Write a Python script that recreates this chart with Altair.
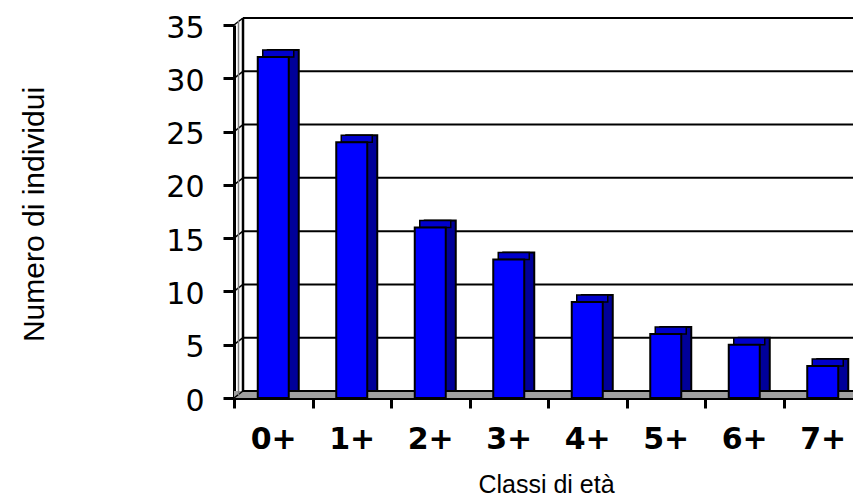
import altair as alt
import pandas as pd

categories = ["0+", "1+", "2+", "3+", "4+", "5+", "6+", "7+"]
counts = [32, 24, 16, 13, 9, 6, 5, 3]
y_ticks = [0, 5, 10, 15, 20, 25, 30, 35]

bars = pd.DataFrame({"classe": categories, "n": counts})
grid = pd.DataFrame({"v": y_ticks})
wall = pd.DataFrame({"top": [35], "bottom": [0]})

W, H = 619, 373
RANGE = [0, 628]
DX, DY = 10, -7
BAR = 31

xscale = alt.Scale(domain=categories, range=RANGE, paddingInner=0, paddingOuter=0)
yscale = alt.Scale(domain=[0, 35], nice=False)

x_axis = alt.Axis(
    title="Classi di età", labelFont="DejaVu Sans", labelFontSize=30, labelFontWeight="bold",
    labelColor="black", labelAngle=0, labelPadding=16, tickBand="extent", tickSize=10,
    tickWidth=3, tickColor="black", domainColor="black", domainWidth=3,
    titleFont="Liberation Sans", titleFontSize=25, titleFontWeight="normal",
    titleColor="black", titleX=312, titleY=94, titleBaseline="alphabetic", titleAlign="center",
)
y_axis = alt.Axis(
    values=y_ticks, title="Numero di individui", labelFont="DejaVu Sans", labelFontSize=30,
    labelColor="black", labelPadding=19, labelOffset=3, tickSize=11, tickWidth=3, tickColor="black",
    domainColor="black", domainWidth=3, grid=False,
    titleFont="Liberation Sans", titleFontSize=30, titleFontWeight="normal", titleColor="black",
    titleX=-191, titleY=189, titleAngle=270, titleBaseline="alphabetic", titleAlign="center",
)

floor = alt.Chart(grid).transform_filter("datum.v == 0").mark_rect(
    color="#a0a0a0", y2Offset=DY
).encode(
    x=alt.value(0), x2=alt.value(RANGE[1]),
    y=alt.Y("v:Q", scale=yscale, axis=y_axis), y2="v:Q",
)

gridlines = alt.Chart(grid).mark_rule(color="black", strokeWidth=2, yOffset=DY).encode(
    x=alt.value(DX - 1), x2=alt.value(RANGE[1]),
    y=alt.Y("v:Q", scale=yscale, axis=y_axis),
)

diag = alt.Chart(grid).mark_rule(color="black", strokeWidth=1.5, y2Offset=DY).encode(
    x=alt.value(0), x2=alt.value(DX - 1),
    y=alt.Y("v:Q", scale=yscale, axis=y_axis), y2="v:Q",
)

wall_edge = alt.Chart(wall).mark_rule(color="black", strokeWidth=2.5, yOffset=DY, y2Offset=DY).encode(
    x=alt.value(DX - 1), y=alt.Y("top:Q", scale=yscale, axis=y_axis), y2="bottom:Q",
)
wall_gray = alt.Chart(wall).mark_rule(color="#808080", strokeWidth=1.5, yOffset=-4, y2Offset=-3).encode(
    x=alt.value(4.5), y=alt.Y("top:Q", scale=yscale, axis=y_axis), y2="bottom:Q",
)

side = alt.Chart(bars).mark_bar(
    size=BAR, xOffset=DX, yOffset=DY, y2Offset=DY, color="#000099", stroke="black", strokeWidth=2
).encode(
    x=alt.X("classe:N", scale=xscale, axis=x_axis),
    y=alt.Y("n:Q", scale=yscale, axis=y_axis),
)

top = alt.Chart(bars).mark_bar(
    size=BAR, xOffset=DX / 2, yOffset=DY, color="#0000CC", stroke="black", strokeWidth=1.5
).encode(
    x=alt.X("classe:N", scale=xscale, axis=x_axis),
    y=alt.Y("n:Q", scale=yscale, axis=y_axis), y2="n:Q",
)

front = alt.Chart(bars).mark_bar(
    size=BAR, color="#0000FF", stroke="black", strokeWidth=2
).encode(
    x=alt.X("classe:N", scale=xscale, axis=x_axis),
    y=alt.Y("n:Q", scale=yscale, axis=y_axis),
)

chart = alt.layer(floor, gridlines, diag, wall_gray, wall_edge, side, top, front).properties(
    width=W, height=H,
    autosize=alt.AutoSizeParams(type="none"),
    padding={"left": 226, "top": 17, "right": 0, "bottom": 98},
    background="white",
).configure_view(stroke=None)

chart.save("out.html", embed_options={"renderer": "svg", "actions": False})
